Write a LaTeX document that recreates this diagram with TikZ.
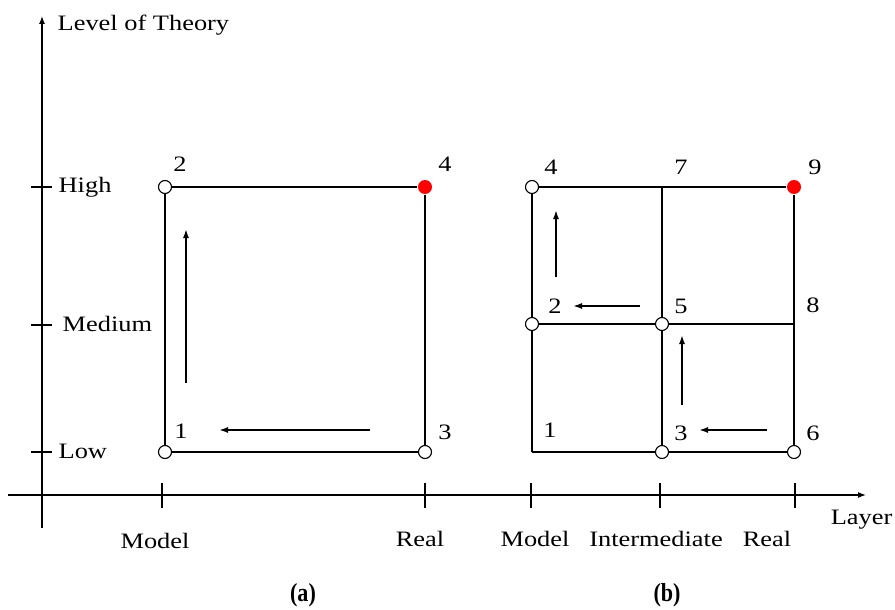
\documentclass[tikz,border=0pt]{standalone}
\usepackage{fontspec}
\setmainfont{Liberation Serif}[FakeStretch=1.2]
\newfontfamily\capfont{Liberation Serif}[FakeStretch=0.85]
\usetikzlibrary{arrows.meta}
\begin{document}
\begin{tikzpicture}[x=1pt,y=-1pt,
  line width=1.3pt,
  vtx/.style={circle,draw,fill=white,minimum size=13pt,inner sep=0pt,line width=1.1pt},
  hot/.style={circle,fill=red,minimum size=14pt,inner sep=0pt},
  lbl/.style={font=\fontsize{22}{25}\selectfont,inner sep=0pt},
  captext/.style={font=\capfont\bfseries\fontsize{26}{30}\selectfont,inner sep=0pt},
  flow/.style={-{Latex[length=9pt,width=6pt]},line width=1.6pt},
  axis/.style={-{Latex[length=8pt,width=6pt]},line width=1.3pt},
  tickmark/.style={line width=1.2pt}]
\useasboundingbox (0,0) rectangle (895,610);

% axes
\coordinate (yb) at (42,528);
\coordinate (yt) at (42,16);
\coordinate (xl) at (8,495);
\coordinate (xr) at (866,495);
\draw[axis] (yb) -- (yt);
\draw[axis] (xl) -- (xr);
\node[lbl,anchor=west] (ylab) at (57,25) {Level of Theory};
\node[lbl,anchor=east] (xlab) at (893,520) {Layer};

% y ticks
\foreach \yy/\nm in {187/hi,325/me,452/lo}{
  \coordinate (t\nm a) at (31,\yy);
  \coordinate (t\nm b) at (52,\yy);
  \draw[tickmark] (t\nm a) -- (t\nm b);
}
\node[lbl,anchor=west] (lhigh) at (58,187) {High};
\node[lbl,anchor=west] (lmed) at (62,324) {Medium};
\node[lbl,anchor=west] (llow) at (58,451) {Low};

% x ticks
\foreach \xx/\nm in {162/ma,425/ra,531/mb,660/ib,795/rb}{
  \coordinate (x\nm a) at (\xx,483);
  \coordinate (x\nm b) at (\xx,508);
  \draw[tickmark] (x\nm a) -- (x\nm b);
}
\node[lbl] (lmodela) at (155,541) {Model};
\node[lbl] (lreala) at (420,539) {Real};
\node[lbl] (lmodelb) at (535,539) {Model};
\node[lbl] (linter) at (656,539) {Intermediate};
\node[lbl] (lrealb) at (767,539) {Real};

% (a)
\node[vtx] (a1) at (165,452) {};
\node[vtx] (a2) at (165,187) {};
\node[vtx] (a3) at (425,452) {};
\node[hot] (a4) at (425,187) {};
\draw (a1) -- (a3) -- (a4) -- (a2) -- (a1);
\node[lbl] (na1) at (181,431) {1};
\node[lbl] (na2) at (180,164) {2};
\node[lbl] (na3) at (445,432) {3};
\node[lbl] (na4) at (445,164) {4};
\coordinate (fa1s) at (186,383);
\coordinate (fa1e) at (186,229);
\coordinate (fa2s) at (370,430);
\coordinate (fa2e) at (219,430);
\draw[flow] (fa1s) -- (fa1e);
\draw[flow] (fa2s) -- (fa2e);

% (b)
\coordinate (b1) at (532,452);
\node[vtx] (b2) at (532,324) {};
\node[vtx] (b3) at (662,452) {};
\node[vtx] (b4) at (532,187) {};
\node[vtx] (b5) at (662,324) {};
\node[vtx] (b6) at (794,452) {};
\coordinate (b7) at (662,187);
\coordinate (b8) at (794,324);
\node[hot] (b9) at (794,187) {};
\draw (b4) -- (b7) -- (b9);
\draw (b2) -- (b5) -- (b8);
\draw (b1) -- (b3) -- (b6);
\draw (b1) -- (b2) -- (b4);
\draw (b3) -- (b5) -- (b7);
\draw (b6) -- (b8) -- (b9);
\node[lbl] (nb1) at (550,430) {1};
\node[lbl] (nb2) at (555,306) {2};
\node[lbl] (nb3) at (681,433) {3};
\node[lbl] (nb4) at (551,167) {4};
\node[lbl] (nb5) at (681,306) {5};
\node[lbl] (nb6) at (813,433) {6};
\node[lbl] (nb7) at (681,167) {7};
\node[lbl] (nb8) at (813,305) {8};
\node[lbl] (nb9) at (815,167) {9};
\coordinate (fb1s) at (556,277);
\coordinate (fb1e) at (556,210);
\coordinate (fb2s) at (640,306);
\coordinate (fb2e) at (573,306);
\coordinate (fb3s) at (682,405);
\coordinate (fb3e) at (682,335);
\coordinate (fb4s) at (767,430);
\coordinate (fb4e) at (699,430);
\draw[flow] (fb1s) -- (fb1e);
\draw[flow] (fb2s) -- (fb2e);
\draw[flow] (fb3s) -- (fb3e);
\draw[flow] (fb4s) -- (fb4e);

% captions
\node[captext] (capa) at (303,595) {(a)};
\node[captext] (capb) at (667,595) {(b)};
\end{tikzpicture}
\end{document}
